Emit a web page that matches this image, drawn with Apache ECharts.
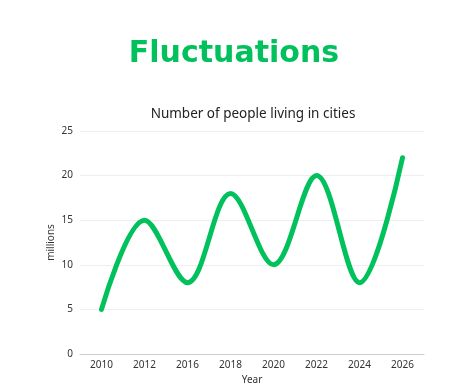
<!DOCTYPE html>
<html><head><meta charset="utf-8">
<script src="https://cdn.jsdelivr.net/npm/echarts@6/dist/echarts.min.js"></script>
<style>html,body{margin:0;padding:0;background:#fff}#c{width:476px;height:390px}</style>
</head><body><div id="c"></div>
<script>
const categories = ['2010','2012','2016','2018','2020','2022','2024','2026'];
const values = [5, 15, 8, 18, 10, 20, 8, 22];
const chart = echarts.init(document.getElementById('c'));
chart.setOption({
  animation: false,
  title: [
    {text: 'Fluctuations', left: 229, top: 34, textAlign: 'center',
     textStyle: {fontFamily: 'DejaVu Sans', fontWeight: 'bold', fontSize: 30, color: '#00c15b'}},
    {text: 'Number of people living in cities', left: 248, top: 102, textAlign: 'center',
     textStyle: {fontFamily: 'Noto Sans', fontWeight: 'normal', fontSize: 13.5, color: '#222'}}
  ],
  grid: {left: 80, right: 52, top: 131, bottom: 36},
  xAxis: {
    type: 'category', data: categories, name: 'Year', nameLocation: 'middle', nameGap: 19,
    nameTextStyle: {fontSize: 10, color: '#333', fontFamily: 'Noto Sans'},
    axisLine: {lineStyle: {color: '#ccc'}}, axisTick: {show: false},
    axisLabel: {fontSize: 10, color: '#333', fontFamily: 'Noto Sans', margin: 6}
  },
  yAxis: {
    type: 'value', min: 0, max: 25, interval: 5, name: 'millions', nameLocation: 'middle', nameGap: 24,
    nameMoveOverlap: false,
    nameTextStyle: {fontSize: 10, color: '#333', fontFamily: 'Noto Sans'},
    axisLabel: {fontSize: 10, color: '#333', fontFamily: 'Noto Sans', margin: 7},
    splitLine: {lineStyle: {color: '#eee'}}
  },
  series: [{
    type: 'line', data: values, smooth: 0.35, symbol: 'none',
    lineStyle: {color: '#00c15b', width: 5, cap: 'round'}
  }]
});
</script></body></html>
